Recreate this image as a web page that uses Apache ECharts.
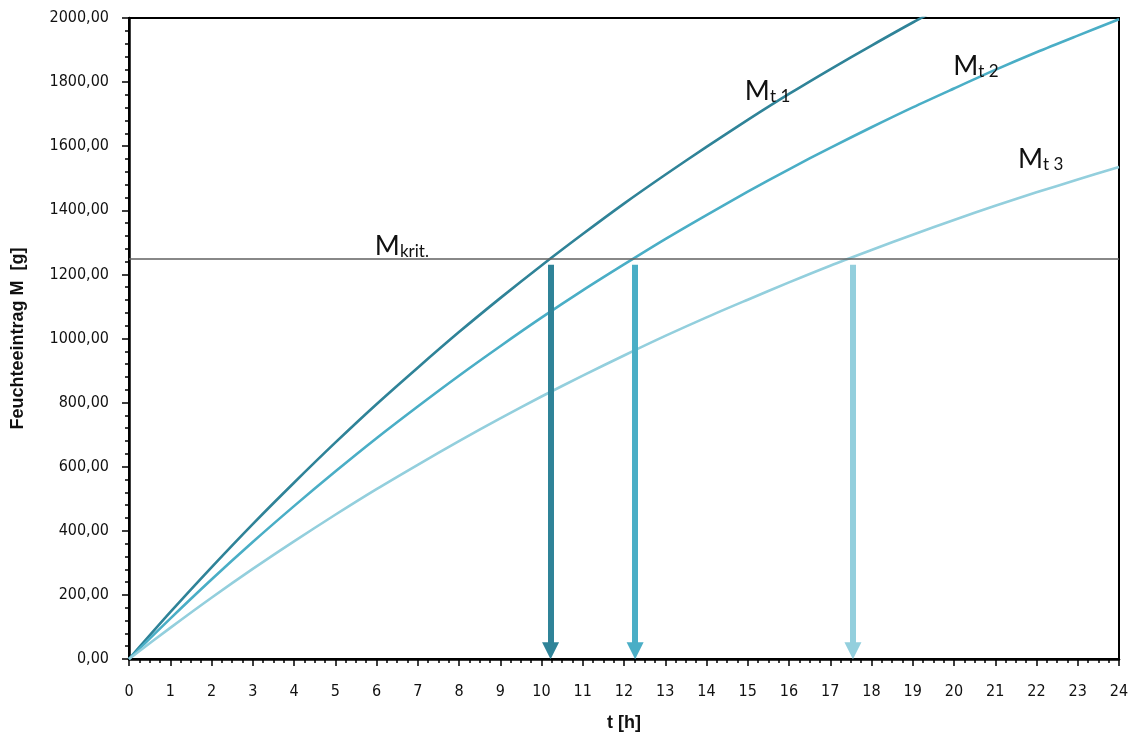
<!DOCTYPE html>
<html>
<head>
<meta charset="utf-8">
<script src="https://cdn.jsdelivr.net/npm/echarts@6/dist/echarts.min.js"></script>
<style>
  html, body { margin: 0; padding: 0; background: #fff; }
  #chart { width: 1135px; height: 732px; }
</style>
</head>
<body>
<div id="chart"></div>
<script>
// time axis [h]
const hours = [0, 1, 2, 3, 4, 5, 6, 7, 8, 9, 10, 11, 12, 13, 14, 15, 16, 17, 18, 19, 20, 21, 22, 23, 24];

// moisture uptake M [g]
const mt1 = [0, 146, 286, 421, 550, 675, 795, 909, 1020, 1126, 1228, 1326, 1421, 1511, 1598, 1682, 1763, 1840, 1914, 1986, 2054];
const mt2 = [0, 126, 248, 365, 477, 585, 689, 788, 884, 976, 1065, 1150, 1231, 1310, 1385, 1458, 1528, 1595, 1659, 1721, 1780, 1838, 1893, 1945, 1996];
const mt3 = [0, 97, 191, 281, 367, 450, 530, 606, 680, 751, 819, 884, 947, 1008, 1066, 1121, 1175, 1227, 1276, 1324, 1370, 1414, 1456, 1496, 1535];

const mKrit = 1250;
// times where each curve reaches M krit.
const tKrit = [10.22, 12.27, 17.55];
const arrowTop = 1230;
const arrowEnd = 26;

const colors = ["#2f8398", "#4aaec6", "#93cfdd"];

// label anchors [t, M]
const labelPos = [[14.93, 1775], [19.98, 1853], [21.55, 1563]];
const labelSub = ["t 1", "t 2", "t 3"];
const kritPos = [5.96, 1292];

const numFont = "'DejaVu Sans Condensed', 'Liberation Sans Narrow', sans-serif";
const nameFont = "'Liberation Sans', Arial, sans-serif";
const labelFont = "Lato, 'Open Sans', sans-serif";

const chart = echarts.init(document.getElementById("chart"));

function pairs(vals) {
    return vals.map((v, i) => [hours[i], v]);
}

const richLabel = {
    m: { fontFamily: labelFont, fontSize: 27, color: "#111", verticalAlign: "bottom", lineHeight: 30 },
    s: { fontFamily: labelFont, fontSize: 17, color: "#111", verticalAlign: "bottom", lineHeight: 17 }
};

function curve(name, vals, idx) {
    return {
        name: name,
        type: "line",
        data: pairs(vals),
        smooth: 0.3,
        showSymbol: false,
        clip: true,
        lineStyle: { color: colors[idx], width: 2.6 },
        z: 3,
        markLine: {
            silent: true,
            symbol: ["none", "triangle"],
            symbolSize: 17,
            lineStyle: { color: colors[idx], width: 6, type: "solid" },
            label: { show: false },
            data: [[{ coord: [tKrit[idx], arrowTop] }, { coord: [tKrit[idx], arrowEnd] }]]
        },
        markPoint: {
            silent: true,
            symbol: "circle",
            symbolSize: 0,
            data: [{ coord: labelPos[idx] }],
            label: {
                show: true,
                position: "right",
                distance: 0,
                formatter: "{m|M}{s|" + labelSub[idx] + "}",
                rich: richLabel
            }
        }
    };
}

chart.setOption({
    backgroundColor: "#fff",
    animation: false,
    grid: {
        left: 129, right: 16, top: 18, bottom: 73,
        containLabel: false,
        outerBoundsMode: "none",
        show: true, borderColor: "#000", borderWidth: 2
    },
    xAxis: {
        type: "value",
        min: 0, max: 24, interval: 1,
        name: "t [h]",
        nameLocation: "middle",
        nameGap: 55,
        nameTextStyle: { fontFamily: nameFont, fontWeight: "bold", fontSize: 18, color: "#111" },
        axisLine: { lineStyle: { color: "#000", width: 2.5 } },
        axisTick: { show: true, length: 7, lineStyle: { color: "#000", width: 1.5 } },
        minorTick: { show: true, splitNumber: 4, length: 4, lineStyle: { color: "#000", width: 1.5 } },
        splitLine: { show: false },
        axisLabel: { fontFamily: numFont, fontSize: 16, color: "#111", margin: 25 }
    },
    yAxis: {
        type: "value",
        min: 0, max: 2000, interval: 200,
        name: "Feuchteeintrag M  [g]",
        nameLocation: "middle",
        nameGap: 102,
        nameTextStyle: { fontFamily: nameFont, fontWeight: "bold", fontSize: 18, color: "#111" },
        axisLine: { show: true, lineStyle: { color: "#000", width: 2.5 } },
        axisTick: { show: true, length: 7, lineStyle: { color: "#000", width: 1.5 } },
        minorTick: { show: true, splitNumber: 5, length: 4, lineStyle: { color: "#000", width: 1.5 } },
        splitLine: { show: false },
        axisLabel: {
            fontFamily: numFont, fontSize: 16, color: "#111", margin: 20,
            formatter: v => v.toFixed(2).replace(".", ",")
        }
    },
    series: [
        {
            name: "Mkrit",
            type: "line",
            data: [],
            markLine: {
                silent: true,
                symbol: ["none", "none"],
                lineStyle: { color: "#606060", width: 1.5, type: "solid" },
                label: { show: false },
                data: [{ yAxis: mKrit }]
            },
            markPoint: {
                silent: true,
                symbol: "circle",
                symbolSize: 0,
                data: [{ coord: kritPos }],
                label: {
                    show: true,
                    position: "right",
                    distance: 0,
                    formatter: "{m|M}{s|krit.}",
                    rich: richLabel
                }
            }
        },
        curve("Mt1", mt1, 0),
        curve("Mt2", mt2, 1),
        curve("Mt3", mt3, 2)
    ]
});
</script>
</body>
</html>
